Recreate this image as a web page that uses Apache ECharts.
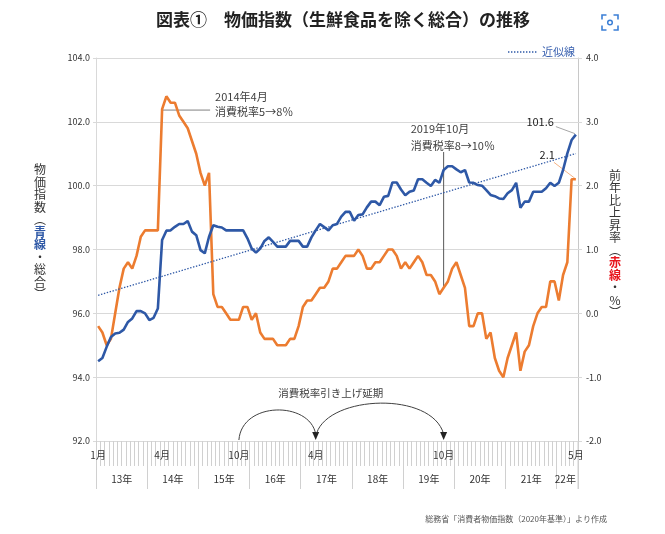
<!DOCTYPE html>
<html><head><meta charset="utf-8">
<script src="https://cdn.jsdelivr.net/npm/echarts@6/dist/echarts.min.js"></script>
<style>html,body{margin:0;padding:0;background:#fff}#c{width:665px;height:534px}</style>
</head><body><div id="c"></div>
<script>
// ---- data ----
const months = [];
for (let i = 0; i < 113; i++) {
  const y = 2013 + Math.floor(i / 12), m = i % 12 + 1;
  months.push(y + '-' + String(m).padStart(2, '0'));
}
const yearLabels = ['13年','14年','15年','16年','17年','18年','19年','20年','21年','22年'];
const monthLabelIndex = [0, 15, 33, 51, 81, 112];
const leftTicks = [92, 94, 96, 98, 100, 102, 104];
const rightTicks = [-2, -1, 0, 1, 2, 3, 4];

// 物価指数（生鮮食品を除く総合, 2020=100）
const cpiIndex = [
  94.5, 94.6, 94.95, 95.26, 95.37, 95.39, 95.49, 95.73, 95.84, 96.07, 96.07, 96.0,
  95.79, 95.86, 96.15, 98.3, 98.59, 98.6, 98.71, 98.8, 98.8, 98.89, 98.56, 98.45,
  97.98, 97.88, 98.4, 98.76, 98.71, 98.69, 98.6, 98.6, 98.6, 98.6, 98.6, 98.35,
  98.03, 97.9, 98.03, 98.27, 98.38, 98.24, 98.09, 98.09, 98.09, 98.27, 98.27, 98.27,
  98.09, 98.09, 98.38, 98.6, 98.8, 98.7, 98.6, 98.76, 98.8, 99.03, 99.18, 99.18,
  98.9, 99.08, 99.1, 99.32, 99.5, 99.5, 99.39, 99.65, 99.68, 100.1, 100.1, 99.88,
  99.7, 99.81, 99.85, 100.2, 100.2, 100.09, 99.99, 100.18, 100.09, 100.49, 100.61, 100.61,
  100.51, 100.42, 100.49, 100.1, 100.09, 100.02, 100.0, 99.86, 99.71, 99.67, 99.6, 99.58,
  99.76, 99.86, 100.09, 99.31, 99.5, 99.5, 99.81, 99.81, 99.81, 99.92, 100.09, 99.99,
  100.09, 100.49, 101.01, 101.43, 101.6
];
// 前年比上昇率（%）
const cpiYoY = [
  -0.2, -0.3, -0.5, -0.4, 0.0, 0.4, 0.7, 0.8, 0.7, 0.9, 1.2, 1.3,
  1.3, 1.3, 1.3, 3.2, 3.4, 3.3, 3.3, 3.1, 3.0, 2.9, 2.7, 2.5,
  2.2, 2.0, 2.2, 0.3, 0.1, 0.1, 0.0, -0.1, -0.1, -0.1, 0.1, 0.1,
  -0.1, 0.0, -0.3, -0.4, -0.4, -0.4, -0.5, -0.5, -0.5, -0.4, -0.4, -0.2,
  0.1, 0.2, 0.2, 0.3, 0.4, 0.4, 0.5, 0.7, 0.7, 0.8, 0.9, 0.9,
  0.9, 1.0, 0.9, 0.7, 0.7, 0.8, 0.8, 0.9, 1.0, 1.0, 0.9, 0.7,
  0.8, 0.7, 0.8, 0.9, 0.8, 0.6, 0.6, 0.5, 0.3, 0.4, 0.5, 0.7,
  0.8, 0.6, 0.4, -0.2, -0.2, 0.0, 0.0, -0.4, -0.3, -0.7, -0.9, -1.0,
  -0.7, -0.5, -0.3, -0.9, -0.6, -0.5, -0.2, 0.0, 0.1, 0.1, 0.5, 0.5,
  0.2, 0.6, 0.8, 2.1, 2.1
];

// ---- linear trend (近似線) from the index series ----
const n = cpiIndex.length;
let sx = 0, sy = 0, sxx = 0, sxy = 0;
cpiIndex.forEach((v, i) => { sx += i; sy += v; sxx += i * i; sxy += i * v; });
const slope = (n * sxy - sx * sy) / (n * sxx - sx * sx);
const icpt = (sy - slope * sx) / n;

const FONT = '"Noto Sans CJK JP", "Noto Sans", sans-serif';
const BLUE = '#2e58a6', ORANGE = '#ec7c30', GRID = '#d9d9d9', TXT = '#404040';

const yearLabelIdx = yearLabels.map((_, k) => k < 9 ? 12 * k + 6 : 110);

const chart = echarts.init(document.getElementById('c'), null, { renderer: 'canvas' });
const option = {
  animation: false,
  textStyle: { fontFamily: FONT },
  grid: { left: 96, right: 87, top: 58, bottom: 93 },
  xAxis: [{
    type: 'category', data: months, boundaryGap: true,
    axisLine: { show: true, onZero: false, lineStyle: { color: GRID } },
    axisTick: { show: true, interval: 0, length: 25, lineStyle: { color: '#d0d0d0' } },
    axisLabel: {
      show: true, interval: (i) => monthLabelIndex.indexOf(i) >= 0,
      formatter: (v) => parseInt(v.slice(5), 10) + '月',
      fontSize: 10, color: '#333', margin: 9, fontFamily: FONT
    },
    splitLine: { show: false }
  }, {
    type: 'category', data: months, boundaryGap: true, position: 'bottom',
    axisLine: { show: false, onZero: false },
    axisTick: { show: true, interval: (i) => i % 12 === 0, length: 48, lineStyle: { color: '#d0d0d0' } },
    axisLabel: {
      show: true, interval: (i) => yearLabelIdx.indexOf(i) >= 0,
      formatter: (v) => yearLabels[parseInt(v.slice(0, 4), 10) - 2013],
      fontSize: 10, color: '#333', margin: 33, padding: [0, 4, 0, 0], fontFamily: FONT
    },
    splitLine: { show: false }
  }],
  yAxis: [{
    type: 'value', min: leftTicks[0], max: leftTicks[leftTicks.length - 1], interval: 2,
    axisLine: { show: true, onZero: false, lineStyle: { color: GRID } },
    axisTick: { show: true, length: 3, lineStyle: { color: GRID } },
    axisLabel: { formatter: (v) => v.toFixed(1), fontSize: 9, color: '#333', margin: 6, fontFamily: FONT },
    splitLine: { show: true, lineStyle: { color: GRID } }
  }, {
    type: 'value', position: 'right', min: rightTicks[0], max: rightTicks[rightTicks.length - 1], interval: 1,
    axisLine: { show: true, onZero: false, lineStyle: { color: '#c8c8c8' } },
    axisTick: { show: true, length: 4, lineStyle: { color: GRID } },
    axisLabel: { formatter: (v) => v.toFixed(1), fontSize: 9, color: '#333', margin: 8, fontFamily: FONT },
    splitLine: { show: false }
  }],
  series: [{
    name: '前年比上昇率', type: 'line', xAxisIndex: 0, yAxisIndex: 1, data: cpiYoY,
    symbol: 'none', lineStyle: { color: ORANGE, width: 2.6 }, z: 3
  }, {
    name: '物価指数', type: 'line', xAxisIndex: 0, yAxisIndex: 0, data: cpiIndex,
    symbol: 'none', lineStyle: { color: BLUE, width: 2.6 }, z: 4
  }, {
    name: '近似線', type: 'line', xAxisIndex: 0, yAxisIndex: 0,
    data: [[months[0], icpt], [months[n - 1], icpt + slope * (n - 1)]],
    symbol: 'none', lineStyle: { color: BLUE, width: 1.3, type: [1.4, 1.6] }, z: 5
  }]
};
chart.setOption(option);

const pIdx = (i) => chart.convertToPixel({ seriesIndex: 1 }, [months[i], cpiIndex[i]]);
const pYoY = (i) => chart.convertToPixel({ seriesIndex: 0 }, [months[i], cpiYoY[i]]);
const pBase = (i) => chart.convertToPixel({ seriesIndex: 1 }, [months[i], leftTicks[0]]);

const txt = (x, y, text, o) => ({
  type: 'text', x: x, y: y, silent: true,
  style: Object.assign({ text: text, fill: TXT, font: '11px ' + FONT, align: 'left', verticalAlign: 'middle',
    textAlign: 'left', textVerticalAlign: 'middle' }, (o && o.style) || {})
});
const seg = (x1, y1, x2, y2, color, w, dash) => ({
  type: 'line', silent: true, shape: { x1, y1, x2, y2 },
  style: { stroke: color, lineWidth: w || 1, lineDash: dash || null }
});

const g = [];
// title
g.push(txt(343, 20, '図表①　物価指数（生鮮食品を除く総合）の推移',
  { style: { font: 'bold 17px ' + FONT, fill: '#222', align: 'center', textAlign: 'center' } }));
// scan icon (top right)
const ic = { x: 602, y: 15, w: 16, h: 15, a: 4.5 };
const ICOL = '#3b7fd6';
const corner = (pts) => ({ type: 'polyline', silent: true, shape: { points: pts }, style: { stroke: ICOL, lineWidth: 1.6, fill: null } });
g.push(corner([[ic.x, ic.y + ic.a], [ic.x, ic.y], [ic.x + ic.a, ic.y]]));
g.push(corner([[ic.x + ic.w - ic.a, ic.y], [ic.x + ic.w, ic.y], [ic.x + ic.w, ic.y + ic.a]]));
g.push(corner([[ic.x, ic.y + ic.h - ic.a], [ic.x, ic.y + ic.h], [ic.x + ic.a, ic.y + ic.h]]));
g.push(corner([[ic.x + ic.w - ic.a, ic.y + ic.h], [ic.x + ic.w, ic.y + ic.h], [ic.x + ic.w, ic.y + ic.h - ic.a]]));
g.push({ type: 'circle', silent: true, shape: { cx: ic.x + ic.w / 2, cy: ic.y + ic.h / 2, r: 2.3 }, style: { stroke: ICOL, lineWidth: 1.5, fill: null } });

// axis names (vertical)
g.push({
  type: 'text', x: 40, y: 232, silent: true,
  style: {
    text: ['物','価','指','数','︵','{b|青}','{b|線}','・','総','合','︶'].join('\n'),
    font: '12px ' + FONT, fill: '#333', lineHeight: 12.5,
    align: 'center', verticalAlign: 'middle', textAlign: 'center', textVerticalAlign: 'middle',
    rich: { b: { fill: BLUE, font: 'bold 12px ' + FONT, lineHeight: 12.5 } }
  }
});
g.push({
  type: 'text', x: 615, y: 244, silent: true,
  style: {
    text: ['前','年','比','上','昇','率','︵','{r|赤}','{r|線}','・','%','︶'].join('\n'),
    font: '12px ' + FONT, fill: '#333', lineHeight: 12.5,
    align: 'center', verticalAlign: 'middle', textAlign: 'center', textVerticalAlign: 'middle',
    rich: { r: { fill: '#e8141c', font: 'bold 12px ' + FONT, lineHeight: 12.5 } }
  }
});

// legend 近似線
g.push(seg(508, 52, 537, 52, BLUE, 1.3, [1.4, 1.6]));
g.push(txt(542, 52, '近似線', { style: { fill: '#3b62b0', font: '11px ' + FONT } }));

// annotation: 2014年4月
const a1 = pYoY(15);
g.push(seg(a1[0], a1[1] + 1, a1[0] + 48, a1[1] + 1, '#808080', 1));
g.push(txt(a1[0] + 53, a1[1] - 12, '2014年4月'));
g.push(txt(a1[0] + 53, a1[1] + 3, '消費税率5→8％'));

// annotation: 2019年10月
const a2o = pYoY(81), a2b = pIdx(81);
const top2 = a2b[1] - 18;
g.push(seg(a2o[0], top2, a2o[0], a2o[1], '#595959', 1));
g.push(txt(a2o[0] - 33, top2 - 23, '2019年10月'));
g.push(txt(a2o[0] - 33, top2 - 6, '消費税率8→10％'));

// final values
const lb = pIdx(n - 1), lo = pYoY(n - 1);
g.push(txt(lb[0] - 22, lb[1] - 13, cpiIndex[n - 1].toFixed(1), { style: { align: 'right', textAlign: 'right', fill: '#222' } }));
g.push(seg(lb[0] - 20, lb[1] - 8, lb[0] - 1, lb[1] - 1, '#a6a6a6', 1));
g.push(txt(lo[0] - 21, lo[1] - 24, cpiYoY[n - 1].toFixed(1), { style: { align: 'right', textAlign: 'right', fill: '#222' } }));
g.push(seg(lo[0] - 22, lo[1] - 17, lo[0] - 1, lo[1] - 1, '#f4b183', 1));

// year separator at the right end of the axis band
const endX = lb[0] + (lb[0] - pIdx(n - 2)[0]) / 2;
const base = pBase(0);
g.push(seg(endX, base[1], endX, base[1] + 48, '#d0d0d0', 1));

// postponement arcs
const A = pBase(33), B = pBase(51), C = pBase(81);
const arrow = (p) => ({ type: 'polygon', silent: true,
  shape: { points: [[p[0], p[1] - 1], [p[0] - 3.5, p[1] - 9], [p[0] + 3.5, p[1] - 9]] },
  style: { fill: '#222' } });
g.push({ type: 'bezierCurve', silent: true,
  shape: { x1: A[0], y1: A[1] - 1, cpx1: A[0] + 3, cpy1: A[1] - 40, cpx2: B[0] - 6, cpy2: A[1] - 40, x2: B[0], y2: B[1] - 7 },
  style: { stroke: '#404040', lineWidth: 1, fill: null } });
g.push(arrow(B));
g.push({ type: 'bezierCurve', silent: true,
  shape: { x1: B[0] + 1, y1: B[1] - 8, cpx1: B[0] + 14, cpy1: B[1] - 46, cpx2: C[0] - 12, cpy2: B[1] - 50, x2: C[0], y2: C[1] - 7 },
  style: { stroke: '#404040', lineWidth: 1, fill: null } });
g.push(arrow(C));
g.push(txt(B[0] + 15, A[1] - 48, '消費税率引き上げ延期', { style: { align: 'center', textAlign: 'center', font: '10.5px ' + FONT } }));

// footnote
g.push(txt(607, 519, '総務省「消費者物価指数（2020年基準）」より作成', { style: { align: 'right', textAlign: 'right', font: '8px ' + FONT, fill: '#555' } }));

chart.setOption({ graphic: g });
</script></body></html>
